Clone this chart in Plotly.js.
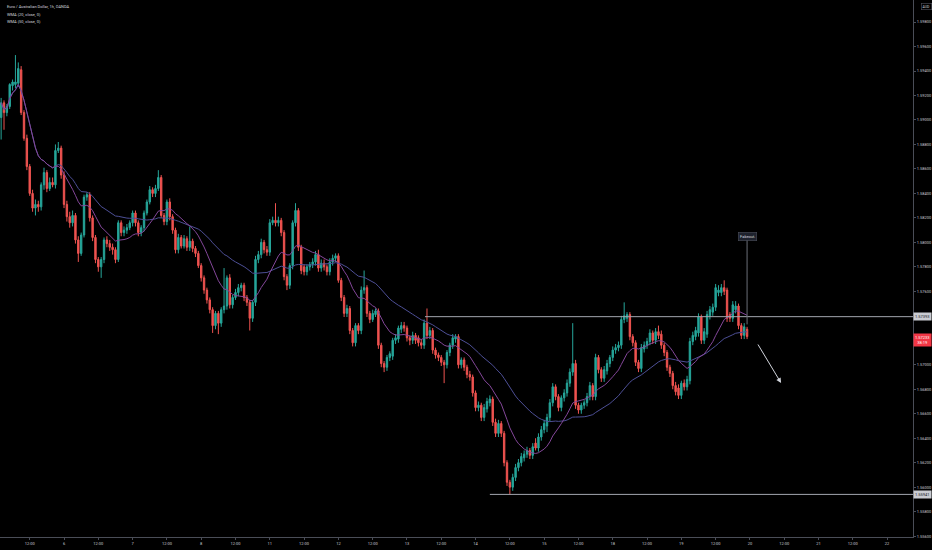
<!DOCTYPE html>
<html><head><meta charset="utf-8">
<script src="https://cdn.plot.ly/plotly-3.0.1.min.js"></script>
<style>html,body{margin:0;padding:0;background:#000;}#chart{width:932px;height:550px;}</style>
</head><body><div id="chart"></div>
<script>
// ---- data (EUR/AUD, 1h candles, OANDA) ----
const firstBar = -22; // bar index of first candle, 0 = day "6" 00:00
const tickLabels = ["12:00","6","12:00","7","12:00","8","12:00","11","12:00","12","12:00","13","12:00","14","12:00","15","12:00","18","12:00","19","12:00","20","12:00","21","12:00","22"];
// price scale labels shown (those under the price tags are hidden, as on the reference)
const yTickVals = [1.556,1.558,1.560,1.562,1.564,1.566,1.568,1.570,1.576,1.578,1.580,1.582,1.584,1.586,1.588,1.590,1.592,1.594,1.596,1.598];
const symbolTitle = "Euro / Australian Dollar, 1h, OANDA";
const wma20Label = "WMA (20, close, 0)";
const wma50Label = "WMA (50, close, 0)";
const currency = "AUD";
const resistanceLevel = 1.57393;
const supportLevel = 1.55941;
const lastPriceText = "1.57233";
const countdownText = "38:19";
const fakeoutText = "Fakeout.";

const openP = [
1.5902,1.5914,1.5906,1.5911,1.5928,1.5929,1.5930,1.5941,1.5906,1.5885,
1.5862,1.5840,1.5828,1.5831,1.5829,1.5847,1.5857,1.5844,1.5849,1.5847,
1.5875,1.5877,1.5855,1.5831,1.5821,1.5816,1.5822,1.5802,1.5791,1.5806,
1.5837,1.5839,1.5820,1.5804,1.5786,1.5780,1.5786,1.5802,1.5799,1.5796,
1.5794,1.5786,1.5816,1.5808,1.5810,1.5812,1.5816,1.5824,1.5816,1.5808,
1.5812,1.5824,1.5833,1.5843,1.5840,1.5844,1.5853,1.5822,1.5817,1.5833,
1.5821,1.5810,1.5794,1.5804,1.5797,1.5803,1.5796,1.5801,1.5795,1.5791,
1.5781,1.5771,1.5761,1.5753,1.5745,1.5732,1.5742,1.5734,1.5745,1.5748,
1.5771,1.5749,1.5755,1.5759,1.5763,1.5765,1.5755,1.5751,1.5738,1.5751,
1.5786,1.5790,1.5800,1.5794,1.5792,1.5816,1.5818,1.5816,1.5818,1.5808,
1.5772,1.5765,1.5781,1.5816,1.5826,1.5796,1.5780,1.5776,1.5780,1.5782,
1.5784,1.5790,1.5779,1.5783,1.5780,1.5776,1.5784,1.5787,1.5789,1.5769,
1.5755,1.5742,1.5746,1.5728,1.5718,1.5732,1.5728,1.5761,1.5763,1.5742,
1.5737,1.5741,1.5744,1.5716,1.5701,1.5698,1.5706,1.5707,1.5720,1.5721,
1.5729,1.5732,1.5730,1.5722,1.5720,1.5724,1.5722,1.5718,1.5716,1.5734,
1.5724,1.5728,1.5712,1.5708,1.5706,1.5702,1.5700,1.5710,1.5716,1.5721,
1.5723,1.5700,1.5704,1.5698,1.5692,1.5690,1.5677,1.5665,1.5667,1.5657,
1.5664,1.5669,1.5672,1.5653,1.5644,1.5652,1.5644,1.5620,1.5604,1.5600,
1.5608,1.5616,1.5620,1.5624,1.5627,1.5630,1.5626,1.5636,1.5632,1.5641,
1.5647,1.5650,1.5657,1.5669,1.5682,1.5674,1.5665,1.5673,1.5677,1.5685,
1.5694,1.5701,1.5667,1.5663,1.5667,1.5669,1.5674,1.5683,1.5674,1.5706,
1.5696,1.5689,1.5695,1.5701,1.5706,1.5712,1.5714,1.5716,1.5737,1.5738,
1.5741,1.5723,1.5718,1.5702,1.5697,1.5713,1.5716,1.5719,1.5726,1.5720,
1.5727,1.5725,1.5716,1.5710,1.5698,1.5693,1.5683,1.5681,1.5675,1.5685,
1.5682,1.5687,1.5719,1.5723,1.5726,1.5739,1.5720,1.5725,1.5740,1.5743,
1.5747,1.5759,1.5759,1.5763,1.5761,1.5741,1.5738,1.5745,1.5748,1.5732,
1.5724,1.5729];

const highP = [
1.5918,1.5916,1.5913,1.5930,1.5933,1.5953,1.5947,1.5944,1.5908,1.5888,
1.5864,1.5843,1.5835,1.5834,1.5849,1.5861,1.5859,1.5853,1.5853,1.5880,
1.5882,1.5879,1.5858,1.5834,1.5825,1.5826,1.5824,1.5805,1.5808,1.5839,
1.5841,1.5841,1.5822,1.5806,1.5788,1.5788,1.5804,1.5805,1.5802,1.5799,
1.5796,1.5818,1.5818,1.5813,1.5815,1.5818,1.5826,1.5826,1.5818,1.5814,
1.5826,1.5835,1.5846,1.5845,1.5847,1.5859,1.5855,1.5824,1.5835,1.5836,
1.5823,1.5812,1.5807,1.5806,1.5806,1.5805,1.5813,1.5803,1.5797,1.5793,
1.5783,1.5773,1.5763,1.5755,1.5747,1.5744,1.5744,1.5747,1.5779,1.5773,
1.5774,1.5757,1.5762,1.5766,1.5767,1.5767,1.5757,1.5753,1.5753,1.5789,
1.5793,1.5803,1.5802,1.5797,1.5819,1.5821,1.5832,1.5821,1.5820,1.5810,
1.5774,1.5783,1.5818,1.5832,1.5828,1.5798,1.5782,1.5782,1.5784,1.5787,
1.5793,1.5794,1.5786,1.5786,1.5782,1.5787,1.5790,1.5791,1.5791,1.5771,
1.5757,1.5749,1.5748,1.5730,1.5734,1.5734,1.5764,1.5777,1.5765,1.5744,
1.5745,1.5746,1.5746,1.5718,1.5703,1.5708,1.5711,1.5722,1.5725,1.5732,
1.5735,1.5735,1.5732,1.5724,1.5727,1.5726,1.5724,1.5721,1.5737,1.5746,
1.5731,1.5730,1.5714,1.5710,1.5708,1.5704,1.5712,1.5718,1.5725,1.5725,
1.5725,1.5706,1.5706,1.5700,1.5695,1.5692,1.5679,1.5670,1.5669,1.5668,
1.5673,1.5675,1.5674,1.5656,1.5655,1.5654,1.5646,1.5622,1.5606,1.5611,
1.5619,1.5623,1.5628,1.5630,1.5633,1.5632,1.5636,1.5640,1.5644,1.5650,
1.5655,1.5660,1.5672,1.5685,1.5684,1.5676,1.5675,1.5680,1.5688,1.5697,
1.5734,1.5704,1.5669,1.5669,1.5671,1.5677,1.5686,1.5685,1.5709,1.5708,
1.5698,1.5699,1.5704,1.5708,1.5715,1.5717,1.5719,1.5740,1.5751,1.5743,
1.5743,1.5725,1.5720,1.5704,1.5717,1.5719,1.5722,1.5729,1.5728,1.5730,
1.5732,1.5728,1.5718,1.5712,1.5700,1.5695,1.5686,1.5684,1.5687,1.5688,
1.5691,1.5722,1.5727,1.5731,1.5742,1.5741,1.5730,1.5744,1.5748,1.5750,
1.5766,1.5765,1.5766,1.5769,1.5763,1.5743,1.5752,1.5752,1.5750,1.5734,
1.5734,1.5731];

const lowP = [
1.5884,1.5892,1.5903,1.5909,1.5924,1.5926,1.5927,1.5904,1.5883,1.5859,
1.5838,1.5825,1.5822,1.5825,1.5826,1.5843,1.5841,1.5842,1.5845,1.5844,
1.5873,1.5852,1.5828,1.5817,1.5812,1.5813,1.5799,1.5784,1.5789,1.5804,
1.5834,1.5817,1.5801,1.5783,1.5776,1.5771,1.5783,1.5796,1.5793,1.5790,
1.5783,1.5784,1.5805,1.5805,1.5807,1.5810,1.5813,1.5813,1.5805,1.5805,
1.5809,1.5822,1.5831,1.5837,1.5837,1.5842,1.5820,1.5814,1.5814,1.5818,
1.5807,1.5791,1.5791,1.5795,1.5795,1.5793,1.5793,1.5792,1.5788,1.5779,
1.5768,1.5758,1.5750,1.5742,1.5726,1.5729,1.5725,1.5731,1.5742,1.5745,
1.5746,1.5746,1.5753,1.5756,1.5760,1.5752,1.5748,1.5728,1.5735,1.5748,
1.5783,1.5787,1.5791,1.5789,1.5789,1.5814,1.5813,1.5813,1.5805,1.5769,
1.5761,1.5762,1.5778,1.5813,1.5793,1.5774,1.5773,1.5773,1.5777,1.5779,
1.5781,1.5776,1.5776,1.5777,1.5773,1.5773,1.5781,1.5784,1.5767,1.5752,
1.5739,1.5739,1.5725,1.5715,1.5715,1.5725,1.5725,1.5758,1.5739,1.5734,
1.5735,1.5739,1.5713,1.5698,1.5694,1.5695,1.5703,1.5704,1.5717,1.5718,
1.5726,1.5727,1.5719,1.5716,1.5717,1.5717,1.5715,1.5713,1.5713,1.5721,
1.5721,1.5709,1.5705,1.5703,1.5699,1.5685,1.5697,1.5707,1.5713,1.5718,
1.5697,1.5697,1.5695,1.5689,1.5687,1.5674,1.5662,1.5662,1.5654,1.5654,
1.5661,1.5666,1.5650,1.5641,1.5641,1.5641,1.5617,1.5601,1.5594,1.5597,
1.5605,1.5613,1.5617,1.5621,1.5624,1.5623,1.5623,1.5630,1.5629,1.5638,
1.5644,1.5645,1.5654,1.5666,1.5671,1.5662,1.5662,1.5670,1.5674,1.5682,
1.5691,1.5664,1.5660,1.5660,1.5664,1.5666,1.5671,1.5671,1.5671,1.5693,
1.5686,1.5686,1.5692,1.5698,1.5703,1.5709,1.5711,1.5713,1.5734,1.5735,
1.5720,1.5715,1.5699,1.5694,1.5694,1.5710,1.5713,1.5716,1.5717,1.5717,
1.5721,1.5713,1.5707,1.5695,1.5690,1.5680,1.5675,1.5672,1.5672,1.5679,
1.5679,1.5684,1.5716,1.5720,1.5723,1.5717,1.5717,1.5722,1.5737,1.5740,
1.5744,1.5756,1.5756,1.5757,1.5735,1.5735,1.5735,1.5742,1.5729,1.5721,
1.5721,1.5721];

const closeP = [
1.5914,1.5906,1.5911,1.5929,1.5931,1.5931,1.5942,1.5906,1.5885,1.5862,
1.5840,1.5828,1.5831,1.5829,1.5847,1.5857,1.5844,1.5849,1.5847,1.5875,
1.5877,1.5855,1.5831,1.5821,1.5816,1.5822,1.5802,1.5791,1.5806,1.5837,
1.5839,1.5820,1.5804,1.5786,1.5780,1.5786,1.5802,1.5799,1.5796,1.5794,
1.5786,1.5816,1.5808,1.5810,1.5812,1.5816,1.5824,1.5816,1.5808,1.5812,
1.5824,1.5833,1.5843,1.5840,1.5844,1.5853,1.5822,1.5817,1.5833,1.5821,
1.5810,1.5794,1.5804,1.5797,1.5803,1.5796,1.5801,1.5795,1.5791,1.5781,
1.5771,1.5761,1.5753,1.5745,1.5732,1.5742,1.5734,1.5745,1.5748,1.5771,
1.5749,1.5755,1.5759,1.5763,1.5765,1.5755,1.5751,1.5738,1.5751,1.5786,
1.5790,1.5800,1.5794,1.5792,1.5816,1.5818,1.5816,1.5818,1.5808,1.5772,
1.5765,1.5781,1.5816,1.5826,1.5796,1.5777,1.5776,1.5780,1.5782,1.5784,
1.5790,1.5779,1.5783,1.5780,1.5776,1.5784,1.5787,1.5789,1.5769,1.5755,
1.5742,1.5746,1.5728,1.5718,1.5732,1.5728,1.5761,1.5763,1.5742,1.5737,
1.5742,1.5744,1.5716,1.5701,1.5698,1.5706,1.5709,1.5720,1.5722,1.5730,
1.5732,1.5730,1.5722,1.5720,1.5724,1.5720,1.5718,1.5716,1.5734,1.5724,
1.5728,1.5712,1.5708,1.5706,1.5702,1.5700,1.5710,1.5716,1.5722,1.5723,
1.5700,1.5704,1.5698,1.5692,1.5690,1.5677,1.5665,1.5667,1.5657,1.5665,
1.5670,1.5672,1.5653,1.5644,1.5652,1.5644,1.5620,1.5604,1.5600,1.5608,
1.5616,1.5620,1.5625,1.5627,1.5630,1.5626,1.5633,1.5632,1.5641,1.5647,
1.5652,1.5657,1.5669,1.5682,1.5674,1.5665,1.5673,1.5677,1.5685,1.5694,
1.5701,1.5667,1.5663,1.5667,1.5669,1.5674,1.5683,1.5674,1.5706,1.5696,
1.5689,1.5696,1.5701,1.5706,1.5712,1.5714,1.5716,1.5737,1.5740,1.5741,
1.5723,1.5718,1.5702,1.5697,1.5714,1.5716,1.5719,1.5726,1.5720,1.5727,
1.5724,1.5716,1.5710,1.5698,1.5693,1.5683,1.5678,1.5675,1.5685,1.5682,
1.5688,1.5719,1.5724,1.5728,1.5739,1.5720,1.5727,1.5741,1.5745,1.5747,
1.5763,1.5761,1.5763,1.5760,1.5738,1.5738,1.5749,1.5748,1.5732,1.5724,
1.5731,1.5723];

// ---- derived ----
const xs = closeP.map((_, k) => firstBar + k);
const tickVals = tickLabels.map((_, k) => -12 + 12 * k);
function wma(src, n) {
  return src.map((_, i) => {
    const m = Math.min(n, i + 1); let num = 0, den = 0;
    for (let j = 0; j < m; j++) { const w = m - j; num += src[i - j] * w; den += w; }
    return num / den;
  });
}
const wma20 = wma(closeP, 20);
const wma50 = wma(closeP, 50);

const UP = '#26a69a', DOWN = '#ef5350';
const traces = [
  { type: 'scatter', mode: 'lines', x: xs, y: wma50, line: { color: '#4d4f96', width: 1 }, hoverinfo: 'skip' },
  { type: 'scatter', mode: 'lines', x: xs, y: wma20, line: { color: '#84479a', width: 1 }, hoverinfo: 'skip' },
  { type: 'candlestick', x: xs, open: openP, high: highP, low: lowP, close: closeP,
    increasing: { line: { color: UP, width: 1 }, fillcolor: UP },
    decreasing: { line: { color: DOWN, width: 1 }, fillcolor: DOWN },
    whiskerwidth: 0, hoverinfo: 'skip' }
];

const W = 913, H = 537;
const txt = '#c8cad0';
const layout = {
  width: 932, height: 550,
  margin: { l: 0, r: 19, t: 0, b: 13 },
  paper_bgcolor: '#000', plot_bgcolor: '#000',
  showlegend: false,
  font: { family: 'Roboto, "Liberation Sans", sans-serif', color: txt, size: 4 },
  xaxis: {
    range: [-22.4, 297.06], tickmode: 'array', tickvals: tickVals, ticktext: tickLabels,
    showgrid: false, zeroline: false, showline: true, linecolor: '#4a4d57', linewidth: 1,
    ticks: 'outside', ticklen: 2, tickcolor: '#4a4d57',
    tickfont: { size: 4, color: txt }, rangeslider: { visible: false }, fixedrange: true
  },
  yaxis: {
    side: 'right', range: [1.55593, 1.5998], tickmode: 'array', tickvals: yTickVals,
    ticktext: yTickVals.map(v => v.toFixed(5)),
    showgrid: false, zeroline: false, showline: true, linecolor: '#4a4d57', linewidth: 1,
    ticks: 'outside', ticklen: 2, tickcolor: '#4a4d57',
    tickfont: { size: 4, color: txt }, fixedrange: true
  },
  shapes: [
    { type: 'line', xref: 'x', yref: 'y', x0: 126.3, x1: 297.06, y0: resistanceLevel, y1: resistanceLevel,
      line: { color: '#a3a6af', width: 1 } },
    { type: 'line', xref: 'x', yref: 'y', x0: 149, x1: 297.06, y0: supportLevel, y1: supportLevel,
      line: { color: '#a3a6af', width: 1 } }
  ],
  annotations: [
    { xref: 'paper', yref: 'paper', x: 5 / W, y: 1 - 6.5 / H, xanchor: 'left', yanchor: 'middle',
      text: symbolTitle, showarrow: false, font: { size: 4, color: '#d1d4dc' } },
    { xref: 'paper', yref: 'paper', x: 5 / W, y: 1 - 14.5 / H, xanchor: 'left', yanchor: 'middle',
      text: wma20Label, showarrow: false, font: { size: 4, color: '#d1d4dc' } },
    { xref: 'paper', yref: 'paper', x: 5 / W, y: 1 - 21.5 / H, xanchor: 'left', yanchor: 'middle',
      text: wma50Label, showarrow: false, font: { size: 4, color: '#d1d4dc' } },
    { xref: 'paper', yref: 'paper', x: 926 / W, y: 1 - 6.5 / H, xanchor: 'center', yanchor: 'middle',
      text: currency, showarrow: false, font: { size: 3.5, color: '#d1d4dc' },
      bordercolor: '#50535e', borderwidth: 0.6, borderpad: 1 },
    { xref: 'paper', yref: 'y', x: 922.5 / W, y: resistanceLevel, xanchor: 'center', yanchor: 'middle',
      text: resistanceLevel.toFixed(5), showarrow: false, font: { size: 4, color: '#131722' },
      bgcolor: '#c9cbd1', borderpad: 1 },
    { xref: 'paper', yref: 'y', x: 922.5 / W, y: supportLevel, xanchor: 'center', yanchor: 'middle',
      text: supportLevel.toFixed(5), showarrow: false, font: { size: 4, color: '#131722' },
      bgcolor: '#c9cbd1', borderpad: 1 },
    { xref: 'paper', yref: 'y', x: 922.5 / W, y: closeP[closeP.length - 1], xanchor: 'center', yanchor: 'top',
      yshift: 3.5, text: lastPriceText + '<br>' + countdownText, showarrow: false,
      font: { size: 4, color: '#ffffff' }, bgcolor: '#f23645', borderpad: 1 },
    { xref: 'x', yref: 'y', x: 239, y: 1.5733, ax: 0, ay: -88, axref: 'pixel', ayref: 'pixel',
      text: fakeoutText, showarrow: true, arrowhead: 0, arrowwidth: 1, arrowcolor: '#6b6e78',
      font: { size: 4, color: '#d1d4dc' }, bgcolor: '#1e222d', bordercolor: '#4a4e59', borderwidth: 0.6, borderpad: 1.5 },
    { xref: 'x', yref: 'y', x: 250.9, y: 1.56851, ax: -24, ay: -40, axref: 'pixel', ayref: 'pixel',
      text: '', showarrow: true, arrowhead: 2, arrowsize: 1, arrowwidth: 1, arrowcolor: '#d1d4dc' }
  ]
};

Plotly.newPlot('chart', traces, layout, { staticPlot: true, displayModeBar: false });
</script></body></html>
